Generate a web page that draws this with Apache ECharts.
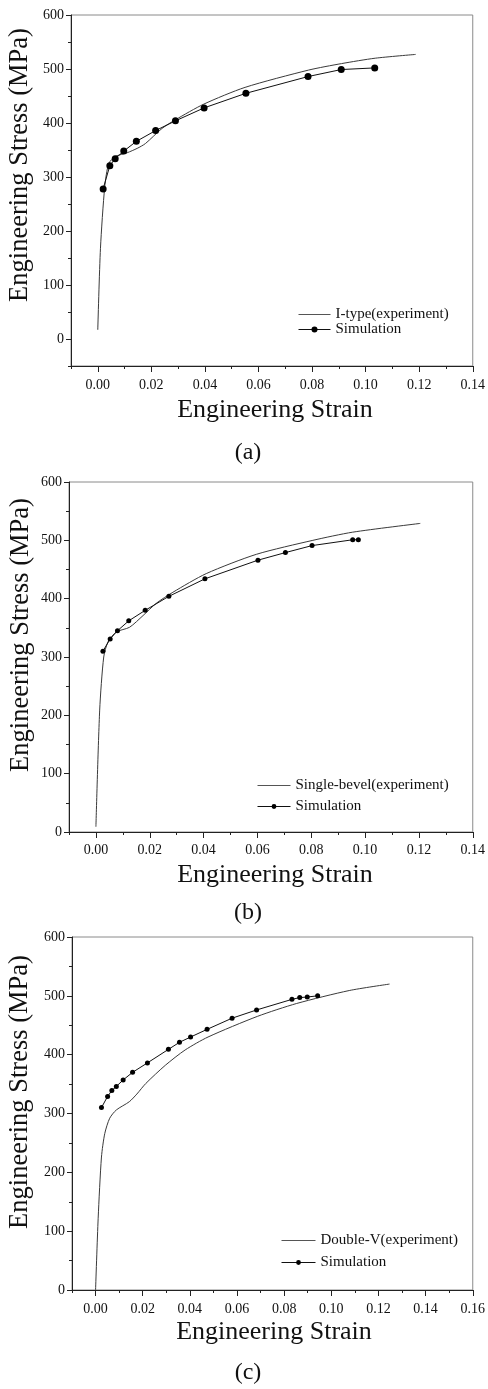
<!DOCTYPE html>
<html>
<head>
<meta charset="utf-8">
<script src="https://cdn.jsdelivr.net/npm/echarts@6/dist/echarts.min.js"></script>
<style>
html,body{margin:0;padding:0;background:#fff;}
#c{width:488px;height:1389px;}
</style>
</head>
<body>
<div id="c"></div>
<script>
// ---- Panel (a): I-type ----
const strainA_exp = [0.0000, 0.0010, 0.0026, 0.0041, 0.0066, 0.0110, 0.0147, 0.0178, 0.0240, 0.0290, 0.0396, 0.0550, 0.0787, 0.0910, 0.1036, 0.1187];
const stressA_exp = [17, 168, 282, 325, 338, 345, 353, 362, 390, 406, 435, 466, 498, 510, 520, 527];
const strainA_sim = [0.0020, 0.0045, 0.0065, 0.0097, 0.0144, 0.0216, 0.0290, 0.0397, 0.0553, 0.0785, 0.0909, 0.1034];
const stressA_sim = [278, 321, 334, 348, 366, 386, 404, 428, 455, 486, 499, 502];

// ---- Panel (b): Single-bevel ----
const strainB_exp = [0.0000, 0.0014, 0.0029, 0.0045, 0.0076, 0.0125, 0.0175, 0.0224, 0.0286, 0.0410, 0.0596, 0.0806, 0.0954, 0.1205];
const stressB_exp = [9, 209, 300, 326, 343, 351, 371, 392, 411, 443, 476, 500, 514, 529];
const strainB_sim = [0.0026, 0.0053, 0.0080, 0.0122, 0.0183, 0.0271, 0.0405, 0.0602, 0.0704, 0.0803, 0.0954, 0.0975];
const stressB_sim = [310, 331, 345, 362, 380, 404, 434, 466, 479, 491, 501, 501];

// ---- Panel (c): Double-V ----
const strainC_exp = [0.0000, 0.0011, 0.0025, 0.0039, 0.0060, 0.0088, 0.0143, 0.0175, 0.0213, 0.0296, 0.0380, 0.0477, 0.0686, 0.0853, 0.1076, 0.1247];
const stressC_exp = [0, 122, 226, 266, 292, 306, 320, 333, 351, 382, 408, 430, 465, 487, 509, 520];
const strainC_sim = [0.0025, 0.0051, 0.0069, 0.0088, 0.0117, 0.0157, 0.0220, 0.0309, 0.0356, 0.0403, 0.0473, 0.0579, 0.0683, 0.0833, 0.0866, 0.0898, 0.0942];
const stressC_sim = [310, 329, 339, 346, 357, 370, 386, 409, 421, 430, 443, 462, 476, 494, 497, 498, 500];

// ---- labels / ticks ----
const expNames = ['I-type(experiment)', 'Single-bevel(experiment)', 'Double-V(experiment)'];
const simName = 'Simulation';
const captions = ['(a)', '(b)', '(c)'];
const xTitle = 'Engineering Strain';
const yTitle = 'Engineering Stress (MPa)';
const xMajorTicksAB = [0, 0.02, 0.04, 0.06, 0.08, 0.10, 0.12, 0.14];
const xMajorTicksC = [0, 0.02, 0.04, 0.06, 0.08, 0.10, 0.12, 0.14, 0.16];
const yMajorTicks = [0, 100, 200, 300, 400, 500, 600];

function pairs(xs, ys) { return xs.map((x, i) => [x, ys[i]]); }

const SERIF = '"Liberation Serif", "Times New Roman", serif';
const panels = [
  { grid: {left: 71, top: 15, width: 403, height: 351}, xmin: -0.01, xmax: 0.14, ymin: -50, ymax: 600,
    xMaj: xMajorTicksAB, exp: pairs(strainA_exp, stressA_exp), sim: pairs(strainA_sim, stressA_sim), sym: 7,
    labMargin: 12, legend: {left: 298, top: 307, gap: 0, lh: 13, ih: 7.5, iw: 32},
    yT: [20, 165], xT: [275, 410], cap: [248, 453] },
  { grid: {left: 69, top: 482, width: 404, height: 350}, xmin: -0.01, xmax: 0.14, ymin: 0, ymax: 600,
    xMaj: xMajorTicksAB, exp: pairs(strainB_exp, stressB_exp), sim: pairs(strainB_sim, stressB_sim), sym: 5,
    labMargin: 11, legend: {left: 257, top: 778, gap: 6, lh: 15, ih: 6, iw: 33},
    yT: [21, 635], xT: [275, 875], cap: [248, 913] },
  { grid: {left: 72, top: 937, width: 407, height: 353}, xmin: -0.01, xmax: 0.16, ymin: 0, ymax: 600,
    xMaj: xMajorTicksC, exp: pairs(strainC_exp, stressC_exp), sim: pairs(strainC_sim, stressC_sim), sym: 5,
    labMargin: 12, legend: {left: 281, top: 1233, gap: 7, lh: 15, ih: 6, iw: 34},
    yT: [20, 1092], xT: [274, 1332], cap: [248, 1373] }
];

const axisColor = '#222';
const grids = [], xAxes = [], yAxes = [], series = [], legends = [], graphics = [];

panels.forEach((p, k) => {
  grids.push(Object.assign({show: true, borderColor: '#8a8a8a', borderWidth: 1, backgroundColor: 'transparent'}, p.grid));
  xAxes.push({
    gridIndex: k, type: 'value', min: p.xmin, max: p.xmax, interval: 0.01,
    axisLine: {show: true, onZero: false, lineStyle: {color: axisColor, width: 1}},
    axisTick: {show: true, length: 3, lineStyle: {color: axisColor}},
    axisLabel: {show: true, margin: p.labMargin, color: '#111', fontFamily: SERIF, fontSize: 14,
      formatter: v => { const n = Math.round(v * 100); return (n >= 0 && n % 2 === 0) ? (n / 100).toFixed(2) : ''; }},
    splitLine: {show: false}
  });
  xAxes.push({
    gridIndex: k, type: 'value', min: p.xmin, max: p.xmax, position: 'bottom',
    axisLine: {show: false, onZero: false},
    axisTick: {show: true, length: 6, customValues: p.xMaj, lineStyle: {color: axisColor}},
    axisLabel: {show: false}, splitLine: {show: false}
  });
  yAxes.push({
    gridIndex: k, type: 'value', min: p.ymin, max: p.ymax, interval: 50,
    axisLine: {show: true, onZero: false, lineStyle: {color: axisColor, width: 1}},
    axisTick: {show: true, length: 3, lineStyle: {color: axisColor}},
    axisLabel: {show: true, margin: 7, color: '#111', fontFamily: SERIF, fontSize: 14,
      formatter: v => (v >= 0 && v % 100 === 0) ? String(v) : ''},
    splitLine: {show: false}
  });
  yAxes.push({
    gridIndex: k, type: 'value', min: p.ymin, max: p.ymax, position: 'left',
    axisLine: {show: false, onZero: false},
    axisTick: {show: true, length: 5, customValues: yMajorTicks, lineStyle: {color: axisColor}},
    axisLabel: {show: false}, splitLine: {show: false}
  });
  series.push({
    name: expNames[k], type: 'line', xAxisIndex: 2 * k, yAxisIndex: 2 * k,
    data: p.exp, symbol: 'none', showSymbol: false, smooth: 0.25,
    lineStyle: {color: '#3a3a3a', width: 1}, itemStyle: {color: '#3a3a3a'}, z: 3
  });
  series.push({
    name: simName, type: 'line', xAxisIndex: 2 * k, yAxisIndex: 2 * k,
    data: p.sim, symbol: 'circle', symbolSize: p.sym, showSymbol: true,
    lineStyle: {color: '#111', width: 1}, itemStyle: {color: '#000'}, z: 4
  });
  legends.push({
    data: [
      {name: expNames[k], itemStyle: {opacity: 0}, lineStyle: {color: '#555', width: 1}},
      {name: simName, lineStyle: {color: '#111', width: 1}}
    ],
    orient: 'vertical', left: p.legend.left, top: p.legend.top,
    itemGap: p.legend.gap, itemWidth: p.legend.iw, itemHeight: p.legend.ih, padding: 0,
    textStyle: {fontFamily: SERIF, fontSize: 15, color: '#111', lineHeight: p.legend.lh},
    selectedMode: false
  });
  graphics.push({
    type: 'text', x: p.yT[0], y: p.yT[1], rotation: Math.PI / 2,
    style: {text: yTitle, font: '26.5px ' + SERIF, fill: '#111', textAlign: 'center', textVerticalAlign: 'middle'}
  });
  graphics.push({
    type: 'text', x: p.xT[0], y: p.xT[1],
    style: {text: xTitle, font: '26px ' + SERIF, fill: '#111', textAlign: 'center', textVerticalAlign: 'middle'}
  });
  graphics.push({
    type: 'text', x: p.cap[0], y: p.cap[1],
    style: {text: captions[k], font: '24px ' + SERIF, fill: '#111', textAlign: 'center', textVerticalAlign: 'middle'}
  });
});

const chart = echarts.init(document.getElementById('c'), null, {renderer: 'canvas'});
chart.setOption({
  animation: false,
  backgroundColor: '#fff',
  grid: grids, xAxis: xAxes, yAxis: yAxes, series: series, legend: legends, graphic: graphics
});
</script>
</body>
</html>
